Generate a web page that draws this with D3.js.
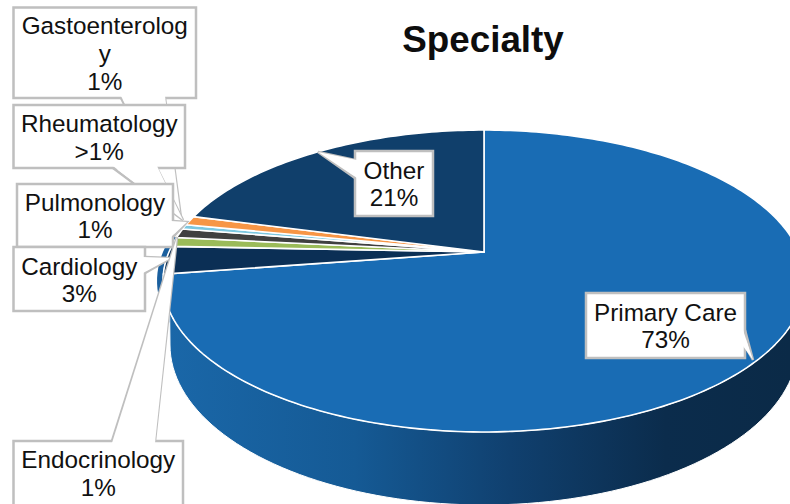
<!DOCTYPE html>
<html><head><meta charset="utf-8">
<script src="https://cdnjs.cloudflare.com/ajax/libs/d3/7.8.5/d3.min.js"></script>
<style>html,body{margin:0;padding:0;background:#fff}svg{display:block}text{font-family:"Liberation Sans",Arial,sans-serif}</style>
</head><body><svg id="chart" width="790" height="504"></svg>
<script>
// Share of visits by specialty, clockwise from twelve o'clock.
const categories = ["Primary Care", "Cardiology", "Endocrinology", "Pulmonology", "Rheumatology", "Gastroenterology", "Other"];
const shares = [73, 3, 1, 1, 0.5, 1, 21];
const percentLabels = ["73%", "3%", "1%", "1%", ">1%", "1%", "21%"];
const sliceColors = ["#196cb4", "#0b2f55", "#9bbb59", "#404040", "#7cc7e0", "#f79646", "#103f6b"];

// Callout boxes: box rectangle [x,y,w,h], wedge polygon, text lines and line baselines.
const calloutOrder = [5, 4, 3, 1, 2, 0, 6];
const calloutBoxes = {
  5: [13.5, 7.5, 182.5, 90.5], 4: [13.5, 105, 171.5, 63], 3: [17, 184, 156, 63],
  1: [13.5, 247, 131.5, 64], 2: [13.5, 441, 169.5, 80], 0: [586, 293, 159, 65], 6: [355, 151, 78, 65]
};
const calloutWedges = {
  5: [[121, 98], [181, 218], [165, 98]], 4: [[113, 168], [183, 220], [157, 168]],
  3: [[173, 221], [187, 222], [173, 237]], 1: [[145, 257], [171, 258], [145, 273]],
  2: [[112, 441], [177, 237], [155, 441]], 0: [[745, 330], [753, 360], [745, 346]],
  6: [[355, 160], [318, 152], [355, 178]]
};
const calloutLines = {
  5: [["Gastoenterolog", 34], ["y", 62], [percentLabels[5], 90]],
  4: [["Rheumatology", 132], [percentLabels[4], 160]],
  3: [["Pulmonology", 211], [percentLabels[3], 238]],
  1: [["Cardiology", 275], [percentLabels[1], 302]],
  2: [["Endocrinology", 468], [percentLabels[2], 496]],
  0: [["Primary Care", 321], [percentLabels[0], 348]],
  6: [["Other", 179], [percentLabels[6], 206]]
};

const svg = d3.select("#chart");
const defs = svg.append("defs");
const grad = defs.append("linearGradient").attr("id", "sideShade")
  .attr("gradientUnits", "userSpaceOnUse").attr("x1", 168).attr("x2", 790).attr("y1", 0).attr("y2", 0);
[[0, "#1a67a8"], [0.3, "#155a95"], [0.55, "#10406f"], [0.8, "#0b2c4c"], [1, "#0b2a47"]]
  .forEach(([o, c]) => grad.append("stop").attr("offset", o).attr("stop-color", c));

// Tilted-disc projection: the hub sits above the ellipse centre because of perspective.
const hub = { x: 484, y: 252 }, spanX = 315, spanY = 145.4, tilt = 0.192;
const project = a => {
  const u = Math.sin(a), v = Math.cos(a), d = 1 + tilt * v;
  return [hub.x + spanX * u / d, hub.y - spanY * v / d];
};
const rad = t => t * Math.PI / 180;
const lower = { x: 484, y: 345, rx: 314, ry: 160 };
const lowerRim = a => [lower.x + lower.rx * Math.cos(a), lower.y + lower.ry * Math.sin(a)];

const arcs = d3.pie().value(d => d).sort(null)(shares);
const curve = d3.line();

// Back edge of the wall, a narrow strip showing past the left rim.
const stripOuter = d3.range(240, 277, 2).map(t => { const p = project(rad(t)); return [p[0] - 6, p[1]]; });
const stripInner = d3.range(276, 239, -2).map(t => project(rad(t)));
svg.append("path").attr("d", curve([...stripOuter, ...stripInner]) + "Z").attr("fill", "#1a5f9e");

// Extruded wall under the near half of the disc.
const wallTop = d3.range(90, 271, 2).map(t => project(rad(t)));
const wallBottom = d3.range(180, -1, -2).map(t => lowerRim(rad(t)));
svg.append("path").attr("d", curve([...wallTop, ...wallBottom]) + "Z")
  .attr("fill", "url(#sideShade)").attr("stroke", "#fff").attr("stroke-width", 1);

// Top face slices.
arcs.forEach((s, i) => {
  const n = Math.max(2, Math.ceil((s.endAngle - s.startAngle) / 0.02));
  const rim = d3.range(n + 1).map(k => project(s.startAngle + (s.endAngle - s.startAngle) * k / n));
  svg.append("path").attr("d", curve([[hub.x, hub.y], ...rim]) + "Z")
    .attr("fill", sliceColors[i]).attr("stroke", "#fff").attr("stroke-width", 1.6).attr("stroke-linejoin", "round");
});

// Callouts: wedge first so its base merges with the box.
calloutOrder.forEach(i => {
  const b = calloutBoxes[i];
  svg.append("polygon").attr("points", calloutWedges[i].join(" "))
    .attr("fill", "#fff").attr("stroke", "#bfbfbf").attr("stroke-width", 2.5);
  svg.append("rect").attr("x", b[0]).attr("y", b[1]).attr("width", b[2]).attr("height", b[3])
    .attr("fill", "#fff").attr("stroke", "#bfbfbf").attr("stroke-width", 2.5);
  const w = calloutWedges[i];
  svg.append("polygon").attr("points", w.map((p, k) => k === 1 ? p : [p[0] + (p[0] === b[0] + b[2] ? -2 : p[0] === b[0] ? 2 : 0), p[1] + (p[1] === b[1] + b[3] ? -2 : p[1] === b[1] ? 2 : 0)]).join(" "))
    .attr("fill", "#fff");
  calloutLines[i].forEach(([t, y]) => svg.append("text").attr("x", b[0] + b[2] / 2).attr("y", y)
    .attr("text-anchor", "middle").attr("font-size", 24.3).attr("fill", "#111").text(t));
});

svg.append("text").attr("x", 483).attr("y", 52).attr("text-anchor", "middle")
  .attr("font-size", 36.8).attr("font-weight", "bold").attr("fill", "#0d0d0d").text("Specialty");
</script></body></html>
